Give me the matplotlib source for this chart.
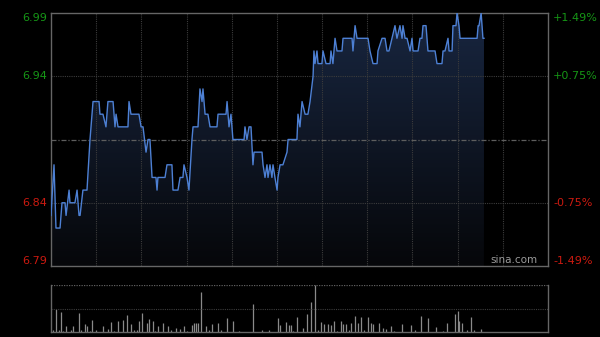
import matplotlib
matplotlib.use("Agg")
import matplotlib.pyplot as plt
import numpy as np

# minutes since 09:30 (HK session, 330 trading minutes incl. lunch gap) and price
minutes = [0, 2.0, 3.3, 6.0, 7.3, 9.3, 10.0, 12.0, 12.6, 15.9, 17.3, 18.6, 19.3, 21.2, 23.9,
           25.9, 27.9, 31.9, 32.5, 34.5, 36.5, 37.8, 41.2, 42.5, 43.2, 44.5, 51.1, 51.8, 53.1,
           58.4, 59.8, 61.1, 63.1, 64.4, 65.7, 67.1, 69.7, 70.4, 71.0, 75.7, 77.0, 80.3, 81.0,
           84.3, 85.7, 87.6, 88.3, 90.3, 91.6, 93.6, 94.3, 97.6, 98.9, 100.3, 100.9, 102.3,
           104.2, 105.6, 110.2, 110.9, 116.2, 116.9, 118.2, 119.5, 120.8, 128.2, 128.8, 130.1,
           131.5, 132.8, 134.1, 134.8, 140.1, 140.8, 142.1, 143.4, 144.1, 145.4, 146.7, 147.4,
           148.7, 150.1, 150.7, 152.1, 154.0, 156.7, 157.4, 163.3, 164.0, 165.3, 166.7, 168.7,
           170.6, 172.0, 174.0, 174.6, 175.3, 176.6, 177.3, 179.9, 180.6, 182.6, 185.3, 185.9,
           187.2, 188.6, 189.9, 193.2, 193.9, 199.9, 200.5, 201.9, 203.2, 210.5, 211.8, 213.8,
           216.5, 217.1, 219.8, 221.8, 223.1, 224.4, 226.4, 228.4, 229.7, 231.7, 233.1, 233.7,
           235.1, 236.4, 238.4, 239.7, 240.4, 243.7, 245.0, 246.3, 247.0, 249.0, 250.3, 255.0,
           256.3, 259.6, 260.3, 261.6, 263.6, 264.3, 266.3, 266.9, 268.9, 269.6, 270.9, 271.6,
           282.9, 283.6, 284.2, 285.6, 286.8, 287.5]
prices = [6.83, 6.87, 6.82, 6.82, 6.84, 6.84, 6.83, 6.85, 6.84, 6.84, 6.85, 6.83, 6.83, 6.85, 6.85,
          6.89, 6.92, 6.92, 6.91, 6.91, 6.90, 6.92, 6.92, 6.90, 6.91, 6.90, 6.90, 6.92, 6.91,
          6.91, 6.90, 6.90, 6.88, 6.89, 6.89, 6.86, 6.86, 6.85, 6.86, 6.86, 6.87, 6.87, 6.85,
          6.85, 6.86, 6.86, 6.87, 6.86, 6.85, 6.89, 6.90, 6.90, 6.93, 6.92, 6.93, 6.91,
          6.91, 6.90, 6.90, 6.91, 6.91, 6.92, 6.90, 6.91, 6.89, 6.89, 6.90, 6.89,
          6.90, 6.90, 6.87, 6.88, 6.88, 6.87, 6.86, 6.87, 6.86, 6.87, 6.86, 6.87,
          6.86, 6.85, 6.86, 6.87, 6.87, 6.88, 6.89, 6.89, 6.91, 6.90, 6.92, 6.91,
          6.91, 6.92, 6.94, 6.96, 6.95, 6.96, 6.95, 6.95, 6.96, 6.95, 6.95, 6.96,
          6.95, 6.97, 6.96, 6.96, 6.97, 6.97, 6.96, 6.98, 6.97, 6.97, 6.96, 6.95,
          6.95, 6.96, 6.97, 6.97, 6.96, 6.96, 6.97, 6.98, 6.97, 6.98, 6.97, 6.98,
          6.97, 6.97, 6.96, 6.97, 6.96, 6.96, 6.97, 6.97, 6.98, 6.98, 6.96, 6.96,
          6.95, 6.95, 6.96, 6.96, 6.97, 6.96, 6.96, 6.98, 6.98, 6.99, 6.98, 6.97,
          6.97, 6.98, 6.98, 6.99, 6.97, 6.97]

vol_minutes = [3.3, 6.6, 10.0, 14.6, 18.6, 22.6, 23.9, 27.2, 34.5, 39.8, 44.5, 47.8, 50.5, 53.1,
               58.4, 60.4, 63.7, 65.1, 67.7, 71.0, 74.4, 77.7, 83.0, 85.7, 88.3, 93.6, 95.0,
               96.3, 97.6, 99.6, 102.9, 106.9, 110.9, 116.9, 120.8, 134.1, 150.7, 152.1, 156.0,
               158.0, 159.4, 163.3, 167.3, 170.0, 172.6, 175.3, 179.3, 181.3, 183.9, 185.9,
               187.9, 192.6, 193.9, 195.9, 199.2, 201.9, 203.8, 205.8, 210.5, 212.5, 213.8,
               217.8, 220.4, 222.4, 225.8, 233.1, 239.0, 245.7, 250.3, 255.6, 262.9, 268.3,
               270.2, 270.9, 272.9, 278.9, 285.6,
               1, 5, 8, 13, 20, 26, 30, 38, 42, 55, 57, 69, 80, 90, 105, 113, 125, 140, 145,
               161, 177, 190, 198, 208, 228, 242, 260, 276, 281]
volumes = [49, 43, 12, 12, 41, 16, 12, 25, 12, 21, 24, 26, 37, 16,
           24, 41, 19, 27, 24, 12, 19, 12, 8, 7, 12, 14, 20,
           19, 19, 86, 12, 16, 20, 29, 23, 59, 29, 14, 21,
           14, 14, 32, 9, 38, 63, 100, 21, 16, 16, 14,
           23, 23, 18, 16, 20, 34, 20, 32, 31, 20, 18,
           20, 9, 7, 12, 16, 14, 34, 29, 11, 19, 39,
           45, 24, 19, 31, 6,
           4, 5, 3, 4, 5, 3, 4, 6, 3, 4, 5, 3, 4, 3, 5, 4, 3, 4, 5,
           3, 4, 3, 5, 4, 3, 4, 3, 4, 5]

price_ticks = [6.99, 6.94, 6.84, 6.79]
price_labels = ["6.99", "6.94", "6.84", "6.79"]
pct_labels = ["+1.49%", "+0.75%", "-0.75%", "-1.49%"]
prev_close = 6.89

green = "#169616"
red = "#cc1a10"
grid_c = "#3c3c3c"
spine_c = "#666666"

fig = plt.figure(figsize=(6, 3.37), dpi=100, facecolor="black")
ax = fig.add_axes([51 / 600, 71 / 337, 497 / 600, 253 / 337], facecolor="black")
axv = fig.add_axes([51 / 600, 5 / 337, 497 / 600, 47 / 337], facecolor="black")

ax.set_xlim(0, 330)
ax.set_ylim(6.79, 6.99)

# gradient fill under the line
grad = np.linspace(0, 1, 256).reshape(-1, 1)
top = np.array([24, 38, 64]) / 255.0
bot = np.array([6, 7, 10]) / 255.0
img = (top * grad + bot * (1 - grad)).reshape(256, 1, 3)
poly = ax.fill_between(minutes, prices, 6.79, color="none", lw=0)
im = ax.imshow(img, extent=[0, 330, 6.79, 6.99], origin="lower", aspect="auto", zorder=1)
im.set_clip_path(poly.get_paths()[0], transform=ax.transData)

# grid
for m in range(30, 330, 30):
    ax.axvline(m, color=grid_c, lw=0.8, ls=(0, (1, 1)), zorder=2)
for p in [6.94, 6.84]:
    ax.axhline(p, color=grid_c, lw=0.8, ls=(0, (1, 1)), zorder=2)
ax.axhline(prev_close, color="#5e5e5e", lw=0.9, ls=(0, (4, 1.5, 1, 1.5)), zorder=2)

ax.plot(minutes, prices, color="#4d80d4", lw=1.0, zorder=3)

ax.set_xticks([])
ax.set_yticks([])
for s in ax.spines.values():
    s.set_color(spine_c)
    s.set_linewidth(1)

vas = ["top", "center", "center", "bottom"]
cols = [green, green, red, red]
for p, lab, pct, va, c in zip(price_ticks, price_labels, pct_labels, vas, cols):
    ax.text(-0.008, p, lab, transform=ax.get_yaxis_transform(), ha="right", va=va,
            color=c, fontsize=8)
    ax.text(1.01, p, pct, transform=ax.get_yaxis_transform(), ha="left", va=va,
            color=c, fontsize=8)

ax.text(0.978, 0.005, "sina.com", transform=ax.transAxes, ha="right", va="bottom",
        color="#9a9a9a", fontsize=7.5)

# volume panel
axv.set_xlim(0, 330)
axv.set_ylim(0, 100)
axv.vlines(vol_minutes, 0, volumes, color="#8a8a8a", lw=0.9)
axv.axhline(50, color=grid_c, lw=0.8, ls=(0, (1, 1)))
axv.axhline(100, color="#606060", lw=0.9, ls=(0, (1, 1)))
axv.set_xticks([])
axv.set_yticks([])
for k, s in axv.spines.items():
    s.set_color(spine_c)
    s.set_linewidth(1)
axv.spines["top"].set_visible(False)

fig.savefig("out.png", facecolor="black")
